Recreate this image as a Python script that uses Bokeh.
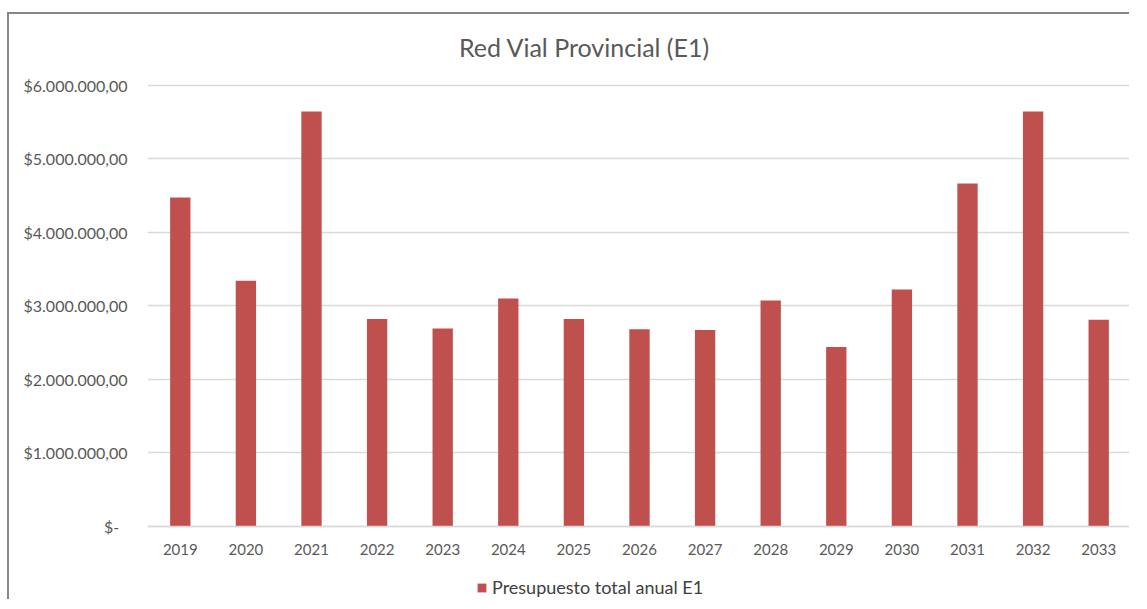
from bokeh.plotting import figure
from bokeh.models import (ColumnDataSource, FactorRange, Range1d, FixedTicker,
                          Legend, LegendItem, Label)
from bokeh.embed import file_html
from bokeh.resources import INLINE

# ---- data ----
years = ["2019", "2020", "2021", "2022", "2023", "2024", "2025", "2026",
         "2027", "2028", "2029", "2030", "2031", "2032", "2033"]
presupuesto = [4470000, 3340000, 5640000, 2820000, 2690000, 3100000, 2820000,
               2680000, 2670000, 3070000, 2440000, 3220000, 4660000, 5640000,
               2810000]
y_ticks = [0, 1000000, 2000000, 3000000, 4000000, 5000000, 6000000]
y_tick_labels = ["$-\u00a0\u00a0", "$1.000.000,00", "$2.000.000,00",
                 "$3.000.000,00", "$4.000.000,00", "$5.000.000,00",
                 "$6.000.000,00"]
title_text = "Red Vial Provincial (E1)"
series_name = "Presupuesto total anual E1"

FONT = "Lato"
BAR = "#C0504D"
GRID = "#D9D9D9"
TXT = "#595959"

# layout (pixels inside the canvas)
H = 587
PX_TOP_AXIS = 70.5      # where 6M sits, from canvas top
PX_ZERO = 512           # where 0 sits, from canvas top
per_px = 6000000 / (PX_ZERO - PX_TOP_AXIS)
y_lo = -(H - PX_ZERO) * per_px
y_hi = 6000000 + PX_TOP_AXIS * per_px

src = ColumnDataSource(dict(year=years, value=presupuesto))

p = figure(width=1122, height=H, x_range=FactorRange(factors=years, range_padding=0),
           y_range=Range1d(y_lo, y_hi), output_backend="svg",
           toolbar_location=None, min_border_left=138, min_border_right=0,
           min_border_top=0, min_border_bottom=0, x_axis_location="below")
p.styles = {"border-left": "2px solid #878787", "border-top": "2px solid #878787",
            "margin-top": "12px", "margin-left": "7px"}
p.outline_line_color = None
p.background_fill_color = "white"
p.border_fill_color = "white"

r = p.vbar(x="year", top="value", width=0.31, source=src, fill_color=BAR,
           line_color=None)

# axes
p.yaxis.ticker = FixedTicker(ticks=y_ticks)
p.yaxis.major_label_overrides = {t: l for t, l in zip(y_ticks, y_tick_labels)}
p.yaxis.axis_line_color = None
p.yaxis.major_tick_line_color = None
p.yaxis.minor_tick_line_color = None
p.yaxis.major_tick_out = 0
p.yaxis.major_tick_in = 0
p.yaxis.major_label_standoff = 20
p.yaxis.major_label_text_font = FONT
p.yaxis.major_label_text_font_size = "16px"
p.yaxis.major_label_text_color = TXT

p.xaxis.fixed_location = 0
p.xaxis.axis_line_color = GRID
p.xaxis.axis_line_width = 1.5
p.xaxis.major_tick_line_color = None
p.xaxis.minor_tick_line_color = None
p.xaxis.major_tick_out = 0
p.xaxis.major_tick_in = 0
p.xaxis.major_label_standoff = 17
p.xaxis.major_label_text_font = FONT
p.xaxis.major_label_text_font_size = "15px"
p.xaxis.major_label_text_color = TXT

p.xgrid.grid_line_color = None
p.ygrid.grid_line_color = GRID
p.ygrid.grid_line_width = 1.5
p.ygrid.ticker = FixedTicker(ticks=y_ticks)

# title
p.add_layout(Label(x=437, y=H - 32, x_units="screen", y_units="screen",
                   text=title_text, text_align="center", text_baseline="middle",
                   text_font=FONT, text_font_size="25px", text_color=TXT))

# legend
legend = Legend(items=[LegendItem(label=series_name, renderers=[r])],
                location=(329, 3), orientation="horizontal",
                glyph_width=11, glyph_height=11, label_height=16,
                label_standoff=5, padding=0, margin=0, spacing=0,
                border_line_color=None, background_fill_alpha=0,
                label_text_font=FONT, label_text_font_size="18px",
                label_text_color="#404040")
p.add_layout(legend, "center")

open("out.html", "w").write(file_html(p, INLINE))
